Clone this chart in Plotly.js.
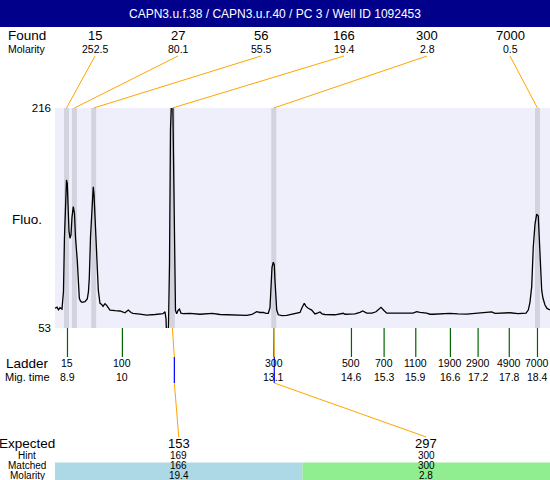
<!DOCTYPE html>
<html>
<head>
<meta charset="utf-8">
<script src="https://cdn.plot.ly/plotly-3.0.1.min.js"></script>
<style>html,body{margin:0;padding:0;background:#fff;}#chart{width:550px;height:480px;}</style>
</head>
<body>
<div id="chart"></div>
<script>
// ---------------- data ----------------
const titleText = "CAPN3.u.f.38 / CAPN3.u.r.40 / PC 3 / Well ID 1092453";

const foundSize     = [15, 27, 56, 166, 300, 7000];
const foundMolarity = ["252.5", "80.1", "55.5", "19.4", "2.8", "0.5"];
const foundTime     = [8.88, 9.04, 9.43, 11.02, 13.07, 18.40];

const ladderSize      = [15, 100, 300, 500, 700, 1100, 1900, 2900, 4900, 7000];
const ladderTime      = [8.90, 10.01, 13.07, 14.64, 15.30, 15.94, 16.64, 17.20, 17.83, 18.40];
const ladderTimeLabel = ["8.9", "10", "13.1", "14.6", "15.3", "15.9", "16.6", "17.2", "17.8", "18.4"];

const expectedSize     = [153, 297];
const hintSize         = [169, 300];
const matchedSize      = [166, 300];
const matchedMolarity  = ["19.4", "2.8"];
const matchedPeakTime  = [11.02, 13.07];
const matchedCalibTime = [11.06, 13.08];
const matchedColors    = ["#ADD8E6", "#90EE90"];

const yTicks = [53, 216];

const traceTime = [
  8.647, 8.688, 8.718, 8.748, 8.789, 8.819, 8.839, 8.860, 8.880, 8.896,
  8.910, 8.930, 8.951, 8.971, 8.991, 9.017, 9.041, 9.062, 9.098, 9.118,
  9.139, 9.163, 9.193, 9.254, 9.300, 9.324, 9.341, 9.365, 9.395, 9.421,
  9.436, 9.456, 9.490, 9.506, 9.523, 9.557, 9.591, 9.618, 9.658, 9.688,
  9.719, 9.759, 9.860, 9.961, 10.062, 10.129, 10.184, 10.224, 10.365, 10.501,
  10.669, 10.770, 10.830, 10.871, 10.891, 10.905, 10.921, 10.942, 10.962, 10.982,
  11.002, 11.022, 11.043, 11.063, 11.083, 11.107, 11.134, 11.164, 11.194, 11.235,
  11.376, 11.578, 11.679, 11.827, 11.982, 12.245, 12.522, 12.629, 12.724, 12.791,
  12.858, 12.912, 12.959, 12.993, 13.013, 13.034, 13.060, 13.080, 13.094, 13.114,
  13.129, 13.161, 13.236, 13.331, 13.397, 13.533, 13.600, 13.640, 13.686, 13.721,
  13.767, 13.836, 13.862, 13.903, 13.963, 14.004, 14.044, 14.105, 14.307, 14.475,
  14.509, 14.576, 14.711, 14.812, 14.867, 14.948, 15.055, 15.136, 15.196, 15.237,
  15.297, 15.352, 15.520, 15.722, 15.884, 15.958, 16.025, 16.160, 16.227, 16.288,
  16.429, 16.631, 16.793, 16.969, 17.137, 17.298, 17.400, 17.474, 17.541, 17.608,
  17.743, 17.844, 18.006, 18.113, 18.168, 18.214, 18.248, 18.283, 18.315, 18.350,
  18.384, 18.416, 18.430, 18.451, 18.485, 18.511, 18.552, 18.592, 18.653
];
const traceFluo = [
  67.6, 68.5, 66.5, 68, 67, 80, 120, 150, 162.7, 160,
  140, 125, 119.5, 122, 135, 142.9, 138, 120, 103, 88,
  75, 73, 72, 72.5, 74.5, 80, 90, 120, 145, 157.7,
  152, 135, 118, 100, 81, 71.3, 70.5, 69, 71, 70,
  68, 66.3, 65.8, 65.6, 64.3, 66.3, 64.5, 63.9, 63.2, 62.6,
  63, 63.5, 63.6, 65, 60, 45, 45, 55, 100, 200,
  240, 240, 180, 100, 66, 63.5, 66, 67, 64, 63.6,
  63.9, 63.2, 63.4, 63.9, 63, 62.6, 62.4, 63, 65.1, 64.5,
  64.5, 63.8, 63.9, 68, 85, 98, 101.7, 100, 88, 72,
  66.3, 62.8, 62.2, 62.4, 63, 63.9, 64.5, 68, 71.3, 69,
  67.6, 66.3, 65, 63.4, 64.2, 64.9, 63.5, 63, 62.8, 63.9,
  63.2, 63.4, 63.5, 64.6, 65.6, 64, 64, 65, 67, 68.3,
  66, 64, 64, 64, 64, 65.1, 64.5, 64, 63.2, 63.2,
  63.6, 63.9, 63.5, 63.3, 63.8, 64.4, 64.8, 65, 63.8, 64,
  64.2, 64.3, 63.7, 63.6, 64, 66.3, 72, 83.6, 113, 130,
  137.3, 136, 125, 101, 81, 75, 70, 67.5, 66.3
];

// ---------------- layout helpers ----------------
const W = 550, H = 480;
const XR = [7.536, 18.653];           // x axis range spans full figure width
const PLOT_L = 55, PLOT_T = 108, PLOT_B = 328;
const px = p => p / W;                 // pixel -> paper x
const py = p => 1 - p / H;             // pixel -> paper y
const pxT = p => XR[0] + (p / W) * (XR[1] - XR[0]); // layout pixel -> x-axis units
const FONT = "Liberation Sans, Arial, sans-serif";
const ORANGE = "#FFA500";
const BAND_HALF = 0.05;

const shapes = [];
const ann = [];

// title bar
shapes.push({type: "rect", xref: "paper", yref: "paper", x0: 0, x1: 1, y0: py(27), y1: 1,
  fillcolor: "#00008B", line: {width: 0}, layer: "below"});
// plot background
shapes.push({type: "rect", xref: "paper", yref: "y", x0: px(PLOT_L), x1: 1, y0: yTicks[0], y1: yTicks[1],
  fillcolor: "#EFEFFB", line: {width: 0}, layer: "below"});
// peak bands
foundTime.forEach(t => shapes.push({type: "rect", xref: "x", yref: "y",
  x0: t - BAND_HALF, x1: t + BAND_HALF, y0: yTicks[0], y1: yTicks[1],
  fillcolor: "#D3D3DF", line: {width: 0}, layer: "below"}));

// left row labels
function leftLabel(text, y, size) {
  ann.push({xref: "paper", yref: "paper", x: px(27), y: py(y), text: text, showarrow: false,
    xanchor: "center", yanchor: "middle", borderpad: 0,
    font: {family: FONT, size: size, color: "#000"}});
}
leftLabel("Found", 36, 13.5);
leftLabel("Molarity", 48.5, 10.5);
leftLabel("Fluo.", 220, 13.5);
leftLabel("Ladder", 363, 13.5);
leftLabel("Mig. time", 376.5, 11);
leftLabel("Expected", 443.5, 13.5);
leftLabel("Hint", 455.5, 10);
leftLabel("Matched", 465.5, 10);
leftLabel("Molarity", 475, 10);

// found labels + connectors to bands
foundSize.forEach((s, i) => {
  const lx = 95 + 83 * i;
  ann.push({xref: "paper", yref: "paper", x: px(lx), y: py(36), text: String(s), showarrow: false,
    xanchor: "center", yanchor: "middle", font: {family: FONT, size: 13, color: "#000"}});
  ann.push({xref: "paper", yref: "paper", x: px(lx), y: py(48.5), text: foundMolarity[i], showarrow: false,
    xanchor: "center", yanchor: "middle", font: {family: FONT, size: 10.5, color: "#000"}});
  shapes.push({type: "line", xref: "x", yref: "paper", x0: pxT(lx), y0: py(56),
    x1: foundTime[i], y1: py(PLOT_T), line: {color: ORANGE, width: 1}});
});

// ladder ticks and labels
ladderSize.forEach((s, i) => {
  shapes.push({type: "line", xref: "x", yref: "paper", x0: ladderTime[i], x1: ladderTime[i],
    y0: py(PLOT_B), y1: py(357), line: {color: "#006400", width: 1.2}});
  ann.push({xref: "x", yref: "paper", x: ladderTime[i], y: py(363), text: String(s), showarrow: false,
    xanchor: "center", yanchor: "middle", font: {family: FONT, size: 10.5, color: "#000"}});
  ann.push({xref: "x", yref: "paper", x: ladderTime[i], y: py(376.5), text: ladderTimeLabel[i], showarrow: false,
    xanchor: "center", yanchor: "middle", font: {family: FONT, size: 10.5, color: "#000"}});
});

// expected table
const colW = (W - PLOT_L) / expectedSize.length;
expectedSize.forEach((e, i) => {
  const x0 = PLOT_L + colW * i, cx = x0 + colW / 2;
  shapes.push({type: "rect", xref: "paper", yref: "paper", x0: px(x0), x1: px(x0 + colW),
    y0: 0, y1: py(462.5), fillcolor: matchedColors[i], line: {width: 0}, layer: "below"});
  const rows = [[String(e), 443.5, 13], [String(hintSize[i]), 455.5, 10],
                [String(matchedSize[i]), 465.5, 10], [matchedMolarity[i], 475, 10]];
  rows.forEach(r => ann.push({xref: "paper", yref: "paper", x: px(cx), y: py(r[1]), text: r[0],
    showarrow: false, xanchor: "center", yanchor: "middle", borderpad: 0,
    font: {family: FONT, size: r[2], color: "#000"}}));
  // connector: band -> calibrated position -> expected label
  shapes.push({type: "line", xref: "x", yref: "paper", x0: matchedPeakTime[i], y0: py(PLOT_B),
    x1: matchedCalibTime[i], y1: py(357), line: {color: ORANGE, width: 1}});
  shapes.push({type: "line", xref: "x", yref: "paper", x0: matchedCalibTime[i], y0: py(357),
    x1: matchedCalibTime[i], y1: py(383), line: {color: "#0000FF", width: 1.2}});
  shapes.push({type: "line", xref: "x", yref: "paper", x0: matchedCalibTime[i], y0: py(383),
    x1: pxT(cx), y1: py(437), line: {color: ORANGE, width: 1}});
});

const data = [{
  type: "scatter", mode: "lines", x: traceTime, y: traceFluo,
  line: {color: "#000000", width: 1.3}, hoverinfo: "skip", showlegend: false
}];

const layout = {
  width: W, height: H,
  margin: {l: 0, r: 0, t: 0, b: 0, pad: 0},
  paper_bgcolor: "#FFFFFF", plot_bgcolor: "rgba(0,0,0,0)",
  showlegend: false,
  title: {text: titleText, font: {family: FONT, size: 12, color: "#FFFFFF"},
    x: 0.5, xanchor: "center", xref: "paper", y: py(14), yref: "container", yanchor: "middle"},
  xaxis: {domain: [0, 1], range: XR, visible: false, fixedrange: true},
  yaxis: {domain: [py(PLOT_B), py(PLOT_T)], range: yTicks, anchor: "free", position: px(PLOT_L),
    tickvals: yTicks, ticktext: yTicks.map(String), ticks: "", showgrid: false, zeroline: false,
    showline: false, ticklabelstandoff: 4,
    tickfont: {family: FONT, size: 11.5, color: "#000"}, fixedrange: true},
  shapes: shapes,
  annotations: ann
};

Plotly.newPlot("chart", data, layout, {displayModeBar: false, staticPlot: true});
</script>
</body>
</html>
